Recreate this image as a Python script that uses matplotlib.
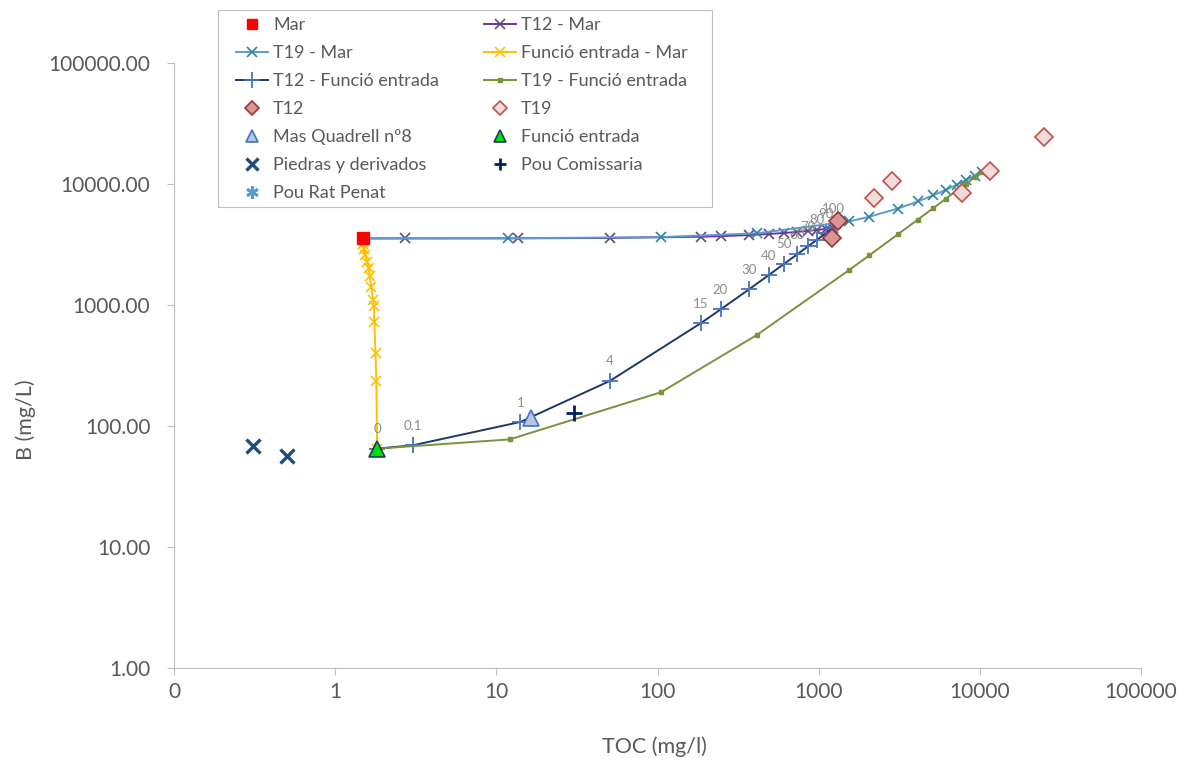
import matplotlib
matplotlib.use("Agg")
import matplotlib.pyplot as plt
from matplotlib.patches import Rectangle
from matplotlib.ticker import FixedLocator, NullLocator

plt.rcParams['font.family'] = ['Lato', 'DejaVu Sans']

# % of end-member along the T12 - Funció entrada mixing line
mix_pct = ["0", "0.1", "1", "4", "15", "20", "30", "40", "50", "60", "70", "80", "90", "100"]

# mixing lines (TOC mg/l, B mg/L)
t12_mar_toc = [1.48, 2.70, 13.7, 50.4, 185, 246, 368, 491, 613, 736, 858, 980, 1103, 1225]
t12_mar_b = [3550, 3551, 3558, 3581, 3667, 3706, 3784, 3862, 3940, 4018, 4096, 4174, 4252, 4330]

t19_mar_toc = [1.48, 11.8, 104.5, 413, 1546, 2061, 3091, 4121, 5151, 6181, 7211, 8240, 9270, 10300]
t19_mar_b = [3550, 3559, 3641, 3912, 4908, 5360, 6265, 7170, 8075, 8980, 9885, 10790, 11695, 12600]

fe_mar_toc = [1.82, 1.80, 1.78, 1.75, 1.74, 1.72, 1.68, 1.64, 1.61, 1.58, 1.54, 1.51, 1.49, 1.48]
fe_mar_b = [65, 236, 401, 724, 981, 1100, 1409, 1737, 2023, 2266, 2590, 2903, 3194, 3550]

t12_fe_toc = [1.82, 3.04, 14.1, 50.7, 185, 246, 369, 491, 613, 736, 858, 980, 1103, 1225]
t12_fe_b = [65, 69.3, 108, 236, 705, 918, 1345, 1771, 2197, 2624, 3050, 3477, 3904, 4330]

t19_fe_toc = [1.82, 12.1, 105, 414, 1546, 2061, 3091, 4121, 5151, 6181, 7211, 8240, 9270, 10300]
t19_fe_b = [65, 77.5, 190, 566, 1945, 2572, 3826, 5079, 6333, 7586, 8840, 10093, 11347, 12600]

# samples
mar_toc, mar_b = [1.48], [3550]
fe_toc, fe_b = [1.82], [65]
t12_toc = [1315, 1208]
t12_b = [4945, 3580]
t19_toc = [2200, 2844, 7730, 11530, 24940]
t19_b = [7660, 10590, 8430, 12800, 24450]
quadrell_toc, quadrell_b = [16.4], [116]
comissaria_toc, comissaria_b = [30.3], [128]
piedras_toc = [0.31, 0.50]
piedras_b = [68.4, 56.5]

W, H = 1184, 763
fig = plt.figure(figsize=(W / 100, H / 100), dpi=100)
ax = fig.add_axes([174 / W, 1 - 668 / H, 967 / W, 605 / H])
ax.set_xscale('log')
ax.set_yscale('log')

lw = 1.4
h_t12_mar, = ax.plot(t12_mar_toc, t12_mar_b, color='#7030A0', lw=lw, marker='x', ms=7,
                     mec='#604A7B', mew=1.2, label='T12 - Mar', zorder=2)
h_t19_mar, = ax.plot(t19_mar_toc, t19_mar_b, color='#5B9BD5', lw=lw, marker='x', ms=7,
                     mec='#31859C', mew=1.2, label='T19 - Mar', zorder=2)
h_fe_mar, = ax.plot(fe_mar_toc, fe_mar_b, color='#FFC000', lw=lw, marker='x', ms=7,
                    mec='#FFC000', mew=1.2, label='Funció entrada - Mar', zorder=2)
h_t12_fe, = ax.plot(t12_fe_toc, t12_fe_b, color='#1F3864', lw=lw, marker='+', ms=11,
                    mec='#4472C4', mew=1.3, label='T12 - Funció entrada', zorder=2)
h_t19_fe, = ax.plot(t19_fe_toc, t19_fe_b, color='#77933C', lw=lw, marker='s', ms=3,
                    mec='#77933C', mfc='#77933C', label='T19 - Funció entrada', zorder=2)

for x, y, txt in zip(t12_fe_toc, t12_fe_b, mix_pct):
    ax.annotate(txt, (x, y), xytext=(0, 14), textcoords='offset points',
                ha='center', va='center', fontsize=9.5, color='#8C8C8C', zorder=3)

h_t12, = ax.plot(t12_toc, t12_b, ls='none', marker='D', ms=9, mfc='#D99694',
                 mec='#943634', mew=1.2, label='T12', zorder=4)
h_t19, = ax.plot(t19_toc, t19_b, ls='none', marker='D', ms=9, mfc='#F2DCDB',
                 mec='#C0504D', mew=1.2, label='T19', zorder=4)
h_quad, = ax.plot(quadrell_toc, quadrell_b, ls='none', marker='^', ms=12, mfc='#B4C7E7',
                  mec='#4472C4', mew=1.2, label='Mas Quadrell nº8', zorder=4)
h_com, = ax.plot(comissaria_toc, comissaria_b, ls='none', marker='+', ms=12,
                 mec='#002060', mew=2.0, label='Pou Comissaria', zorder=4)
h_pied, = ax.plot(piedras_toc, piedras_b, ls='none', marker='x', ms=10,
                  mec='#1F4E79', mew=2.4, label='Piedras y derivados', zorder=4)
h_rat, = ax.plot([], [], ls='none', marker=(6, 2, 0), ms=11, mec='#5B9BD5', mew=2,
                 label='Pou Rat Penat')
h_fe, = ax.plot(fe_toc, fe_b, ls='none', marker='^', ms=12, mfc='#00E000',
                mec='#1F3864', mew=1.2, label='Funció entrada', zorder=5)
h_mar, = ax.plot(mar_toc, mar_b, ls='none', marker='s', ms=9, mfc='#FF0000',
                 mec='#FF0000', label='Mar', zorder=5)

ax.set_xlim(0.1, 100000)
ax.set_ylim(1, 100000)
xt = [0.1, 1, 10, 100, 1000, 10000, 100000]
yt = [1, 10, 100, 1000, 10000, 100000]
ax.xaxis.set_major_locator(FixedLocator(xt))
ax.yaxis.set_major_locator(FixedLocator(yt))
ax.xaxis.set_minor_locator(NullLocator())
ax.yaxis.set_minor_locator(NullLocator())
ax.set_xticklabels(['0', '1', '10', '100', '1000', '10000', '100000'])
ax.set_yticklabels([f"{v:.2f}" for v in yt])
ax.tick_params(axis='both', colors='#BFBFBF', labelcolor='#595959', labelsize=15,
               length=5, width=0.8, direction='out')
ax.tick_params(axis='y', pad=12)
ax.tick_params(axis='x', pad=5)

for side in ('top', 'right'):
    ax.spines[side].set_visible(False)
for side in ('left', 'bottom'):
    ax.spines[side].set_color('#BFBFBF')
    ax.spines[side].set_linewidth(0.8)

ax.set_xlabel('TOC (mg/l)', fontsize=15.5, color='#595959')
ax.set_ylabel('B (mg/L)', fontsize=15.5, color='#595959')
ax.xaxis.set_label_coords(0.497, -0.113)
ax.yaxis.set_label_coords(-0.143, 0.41)

# legend box drawn separately so its padding can be wider than the rows
fig.patches.append(Rectangle((218 / W, 1 - 207 / H), 494 / W, 197 / H,
                             transform=fig.transFigure, fc='white', ec='#BFBFBF',
                             lw=0.8, zorder=0))

handles = [h_mar, h_t19_mar, h_t12_fe, h_t12, h_quad, h_pied, h_rat,
           h_t12_mar, h_fe_mar, h_t19_fe, h_t19, h_fe, h_com]
leg = fig.legend(handles=handles, labels=[h.get_label() for h in handles], ncol=2,
                 loc='upper left', bbox_to_anchor=(236 / W, 1 - 17.5 / H), fontsize=13,
                 frameon=False, handlelength=1.75, handletextpad=0.3,
                 labelspacing=0.66, columnspacing=2.5, borderpad=0, borderaxespad=0)
legend_ms = {'Mar': 7, 'T12': 7, 'T19': 7, 'Mas Quadrell nº8': 8, 'Funció entrada': 8,
             'Piedras y derivados': 8, 'Pou Comissaria': 9, 'Pou Rat Penat': 9}
for lh, t in zip(leg.legend_handles, leg.get_texts()):
    t.set_color('#595959')
    if t.get_text() in legend_ms:
        lh.set_markersize(legend_ms[t.get_text()])

fig.savefig('out.png', dpi=100)
